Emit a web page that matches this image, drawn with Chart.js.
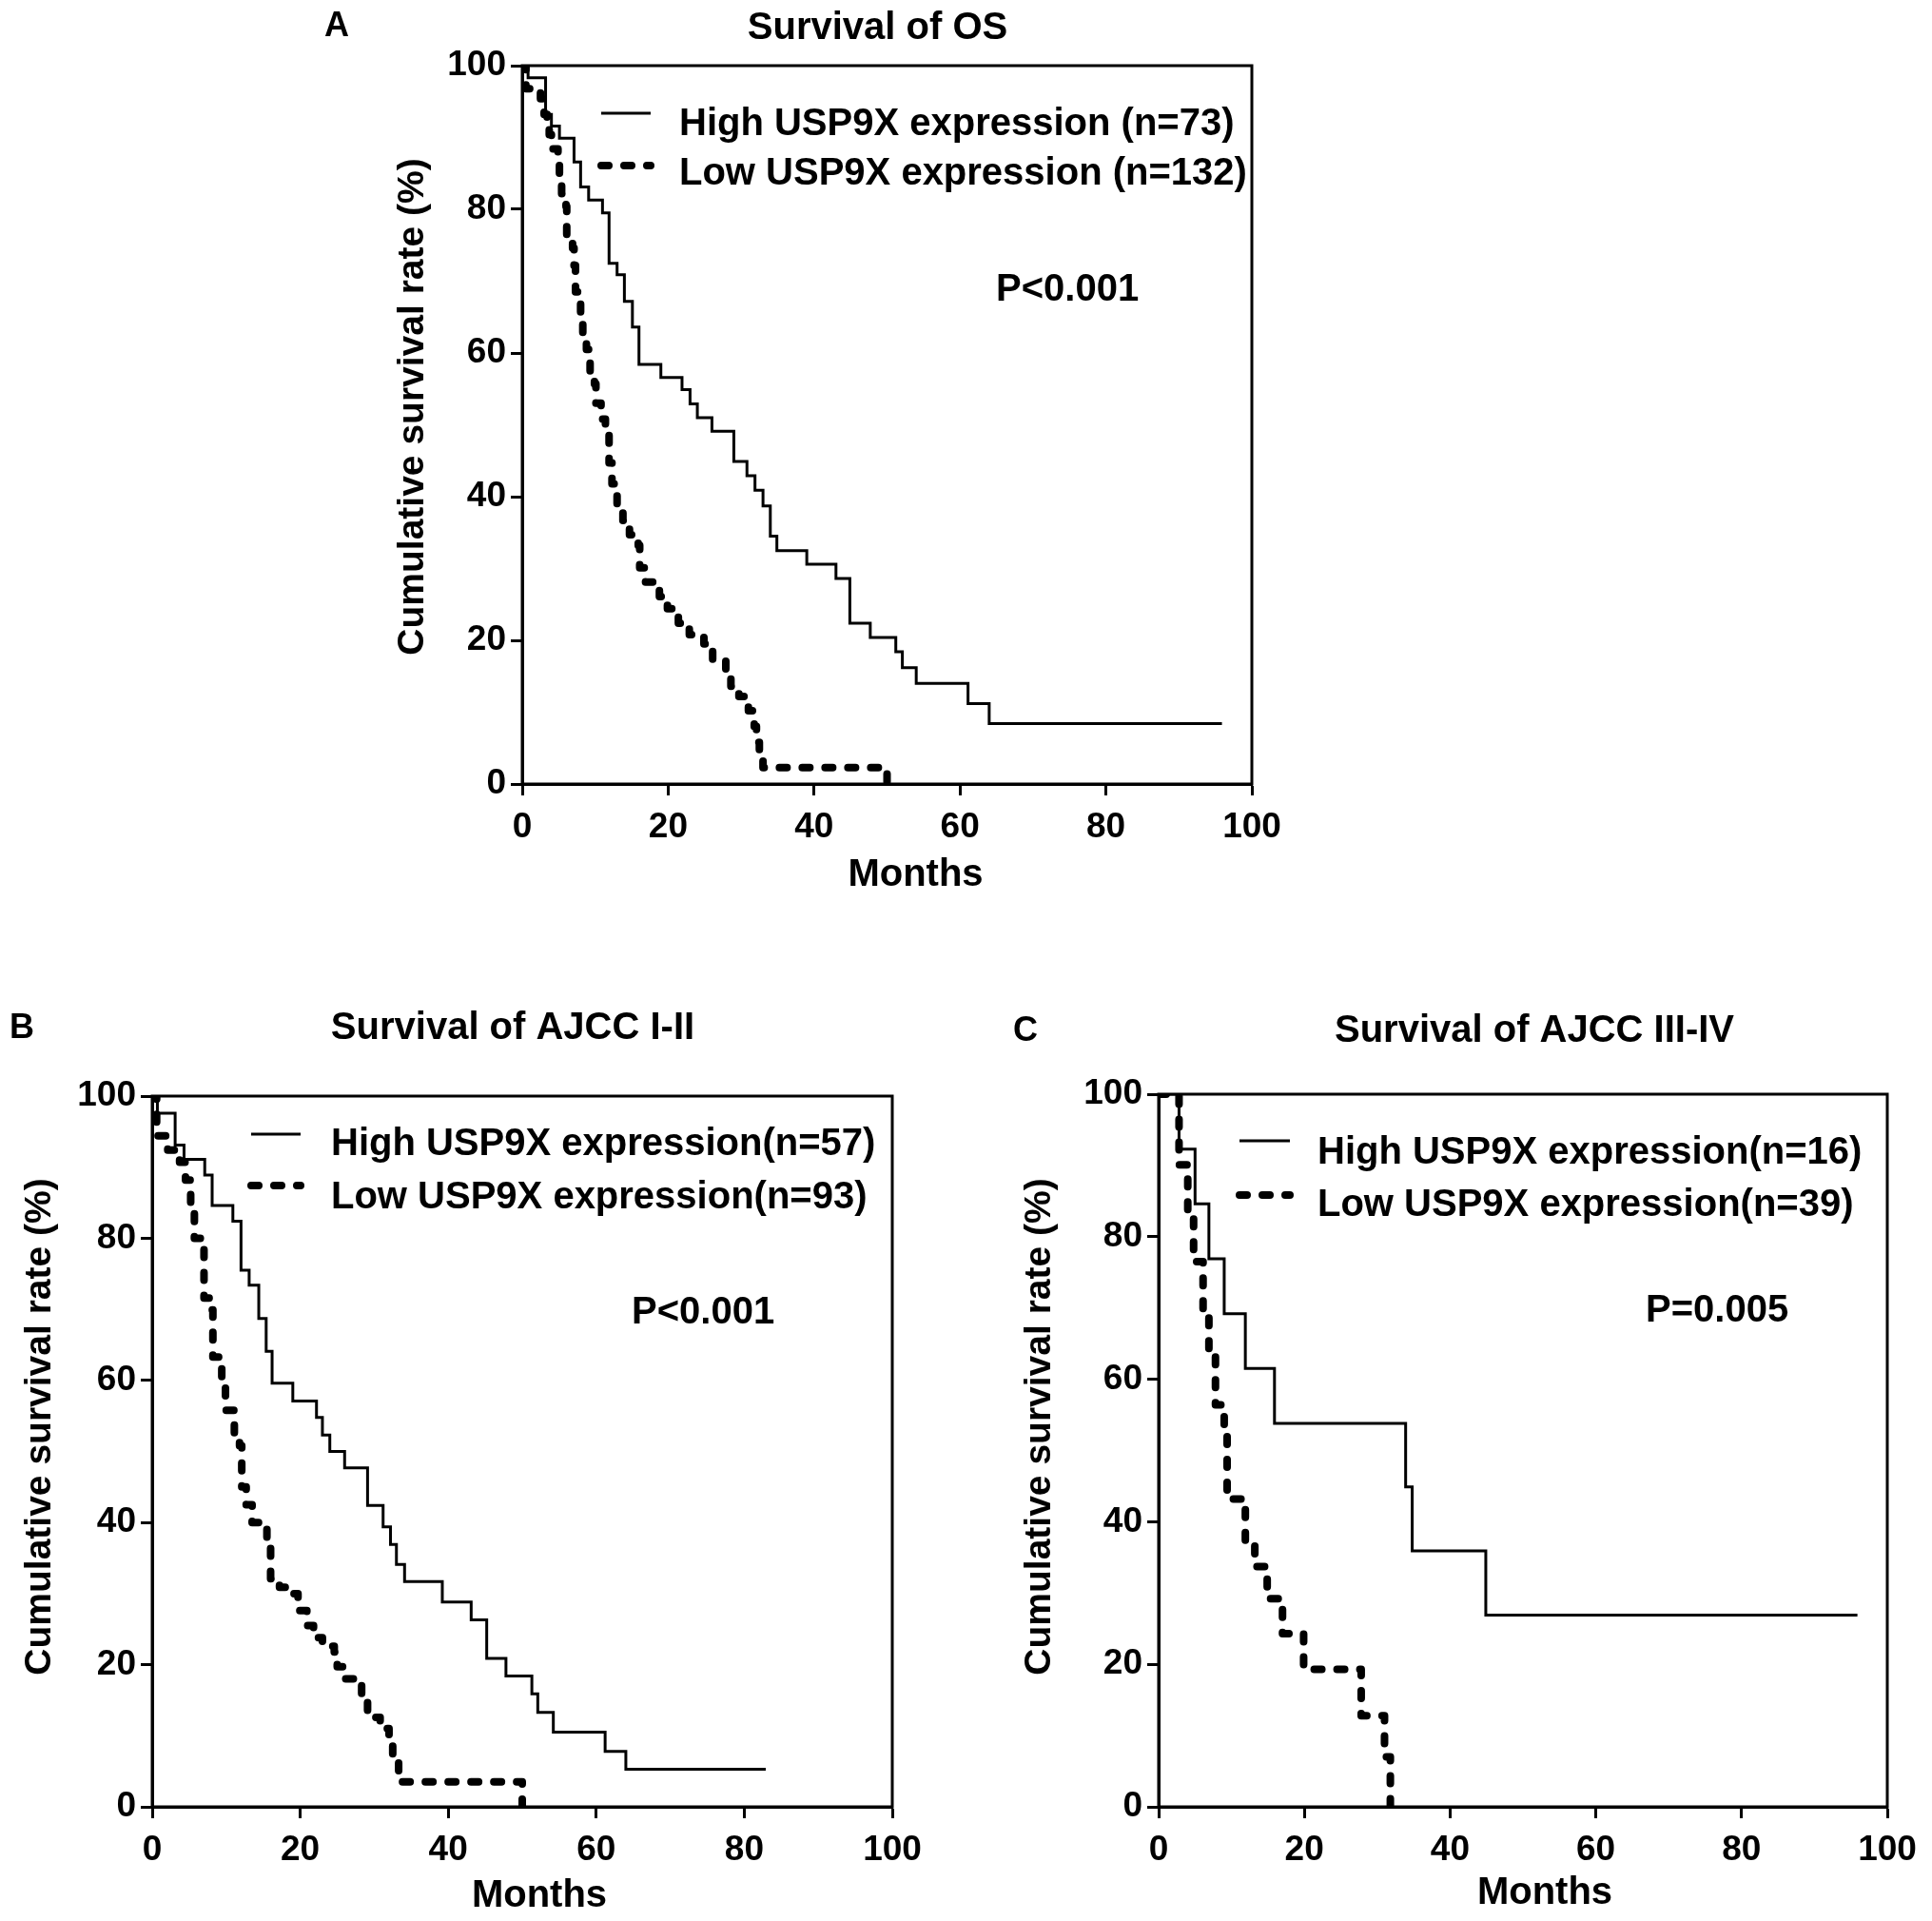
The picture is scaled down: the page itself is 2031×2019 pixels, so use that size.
<!DOCTYPE html>
<html>
<head>
<meta charset="utf-8">
<script src="https://cdn.jsdelivr.net/npm/chart.js@4.4.1/dist/chart.umd.min.js"></script>
<style>
  html, body { margin: 0; padding: 0; background: #fff; }
  body { width: 2031px; height: 2019px; position: relative; overflow: hidden; }
  canvas { position: absolute; }
</style>
</head>
<body>
<canvas id="chartA"></canvas>
<canvas id="chartB"></canvas>
<canvas id="chartC"></canvas>
<script>
// tick labels
const monthTicks = [0, 20, 40, 60, 80, 100];
const rateTicks = [0, 20, 40, 60, 80, 100];

// A: overall survival
const osHighMonths = [0, 0.8, 3.2, 4.0, 5.1, 7.1, 8.0, 9.1, 11.0, 11.9, 13.0, 14.0, 15.1, 16.0, 19.0, 21.9, 23.0, 24.0, 26.0, 29.0, 30.8, 31.9, 33.0, 34.0, 34.9, 39.0, 43.0, 44.9, 47.7, 51.2, 52.1, 54.0, 61.1, 64.0, 95.9];
const osHighSurv = [100, 98.3, 93.2, 91.6, 89.9, 86.6, 83.1, 81.3, 79.5, 72.5, 70.9, 67.2, 63.6, 58.4, 56.6, 54.9, 52.9, 51.0, 49.1, 44.9, 42.9, 40.9, 38.7, 34.5, 32.5, 30.6, 28.6, 22.4, 20.4, 18.4, 16.2, 14.0, 11.2, 8.4, 8.4];
const osLowMonths = [0, 0.5, 2.5, 3.0, 3.4, 3.7, 4.0, 4.9, 5.1, 5.4, 6.0, 6.1, 6.9, 7.1, 7.3, 7.6, 8.0, 8.3, 8.8, 9.3, 9.9, 10.1, 10.8, 11.4, 11.9, 12.3, 13.0, 13.8, 14.7, 15.9, 16.1, 16.9, 18.8, 19.9, 21.4, 22.9, 24.9, 26.1, 27.9, 28.6, 29.7, 31.0, 31.8, 32.1, 32.5, 33.0, 50.0];
const osLowSurv = [100, 96.8, 95.4, 93.2, 91.8, 90.4, 88.4, 86.4, 84.2, 82.2, 80.4, 76.5, 74.6, 72.2, 68.5, 67.2, 64.5, 62.3, 60.5, 57.5, 55.7, 53.0, 50.8, 48.6, 44.7, 41.8, 38.9, 36.7, 34.7, 33.2, 30.1, 28.1, 26.1, 24.4, 22.4, 20.8, 19.5, 17.3, 14.7, 13.6, 12.2, 10.2, 8.0, 5.8, 4.1, 2.3, 0];

// B: AJCC I-II
const earlyHighMonths = [0, 0.7, 3.1, 4.3, 7.1, 8.1, 10.9, 12.0, 13.1, 14.4, 15.4, 16.2, 19.0, 22.2, 23.0, 24.0, 26.0, 29.1, 31.2, 32.2, 33.0, 34.1, 39.2, 43.1, 45.2, 47.8, 51.3, 52.1, 54.2, 61.2, 64.0, 82.9];
const earlyHighSurv = [100, 97.6, 93.1, 91.1, 88.9, 84.6, 82.4, 75.5, 73.4, 68.7, 64.1, 59.6, 57.1, 54.8, 52.3, 50.0, 47.7, 42.4, 39.4, 36.9, 34.1, 31.7, 28.8, 26.3, 20.9, 18.4, 15.9, 13.3, 10.5, 7.8, 5.3, 5.3];
const earlyLowMonths = [0, 0.6, 2.1, 3.7, 4.5, 5.2, 5.7, 6.6, 7.0, 7.8, 8.2, 9.0, 9.4, 9.9, 11.1, 11.8, 12.1, 12.7, 13.5, 15.5, 16.0, 17.2, 18.9, 19.7, 20.9, 21.8, 23.0, 24.6, 25.0, 25.9, 27.5, 28.3, 29.1, 30.8, 32.0, 32.5, 33.3, 50.0];
const earlyLowSurv = [100, 94.4, 92.4, 90.7, 88.2, 84.0, 80.0, 78.7, 71.6, 69.9, 63.3, 62.5, 59.1, 55.8, 52.5, 50.8, 45.0, 42.5, 40.0, 36.7, 32.1, 30.9, 30.0, 27.6, 25.5, 23.8, 22.6, 21.8, 19.7, 18.0, 17.2, 14.7, 12.6, 11.0, 9.7, 6.8, 3.5, 0];

// C: AJCC III-IV
const lateHighMonths = [0, 2.8, 5.0, 6.9, 9.0, 11.9, 15.9, 33.9, 34.8, 44.9, 95.9];
const lateHighSurv = [100, 92.3, 84.6, 76.9, 69.2, 61.5, 53.8, 44.9, 35.9, 26.9, 26.9];
const lateLowMonths = [0, 2.8, 4.0, 4.8, 6.1, 6.9, 7.8, 9.0, 9.4, 11.9, 13.2, 14.9, 17.0, 19.9, 27.8, 31.0, 31.8];
const lateLowSurv = [100, 90.1, 83.1, 76.5, 69.5, 63.8, 56.4, 53.1, 43.2, 37.0, 33.7, 29.2, 24.3, 19.3, 12.8, 7.0, 0];

const FONT = '"Liberation Sans", Arial, sans-serif';

function kmPoints(months, surv) {
    return months.map((m, i) => ({ x: m, y: surv[i] }));
}

// frame, titles, legend and p value drawn on top of each panel
function makeDecor(d) {
    return {
        id: "decor",
        beforeDatasetsDraw(chart) {
            const a = chart.chartArea, ctx = chart.ctx;
            ctx.save();
            ctx.lineWidth = 3;
            ctx.strokeStyle = "#000";
            ctx.strokeRect(a.left, a.top, a.right - a.left, a.bottom - a.top);
            ctx.restore();
        },
        afterDraw(chart) {
            const a = chart.chartArea, ctx = chart.ctx;
            const cx = (a.left + a.right) / 2, cy = (a.top + a.bottom) / 2;
            ctx.save();
            ctx.fillStyle = "#000";
            ctx.strokeStyle = "#000";
            ctx.textBaseline = "middle";

            ctx.font = "bold 36px " + FONT;
            ctx.textAlign = "left";
            ctx.fillText(d.letter, a.left + d.letterX, a.top + d.letterY);

            ctx.font = "bold 40px " + FONT;
            ctx.textAlign = "center";
            ctx.fillText(d.title, cx + d.titleX, a.top + d.titleY);
            ctx.fillText("Months", cx + d.xTitleX, a.bottom + d.xTitleY);

            ctx.save();
            ctx.font = "bold 39px " + FONT;
            ctx.translate(a.left + d.yTitleX, cy + d.yTitleY);
            ctx.rotate(-Math.PI / 2);
            ctx.fillText("Cumulative survival rate (%)", 0, 0);
            ctx.restore();

            // legend
            ctx.lineWidth = 3;
            ctx.beginPath();
            ctx.moveTo(a.left + d.lineX0, a.top + d.row1);
            ctx.lineTo(a.left + d.lineX1, a.top + d.row1);
            ctx.stroke();
            ctx.save();
            ctx.lineWidth = 8;
            ctx.lineCap = "round";
            ctx.setLineDash([8, 16]);
            ctx.beginPath();
            ctx.moveTo(a.left + d.lineX0, a.top + d.row2);
            ctx.lineTo(a.left + d.lineX1, a.top + d.row2);
            ctx.stroke();
            ctx.restore();

            ctx.font = "bold 40px " + FONT;
            ctx.textAlign = "left";
            ctx.fillText(d.highLabel, a.left + d.textX, a.top + d.text1);
            ctx.fillText(d.lowLabel, a.left + d.textX, a.top + d.text2);

            ctx.fillText(d.pText, a.left + d.pX, a.top + d.pY);
            ctx.restore();
        }
    };
}

function axisOptions(tickValues, pad, fitFn) {
    return {
        type: "linear",
        min: 0,
        max: 100,
        afterBuildTicks: (s) => { s.ticks = tickValues.map(v => ({ value: v })); },
        afterFit: fitFn,
        ticks: {
            font: { family: FONT, size: 37, weight: "bold" },
            color: "#000",
            padding: pad,
            autoSkip: false,
            maxRotation: 0
        },
        grid: {
            drawOnChartArea: false,
            drawTicks: true,
            tickLength: 12,
            tickWidth: 3,
            tickColor: "#000"
        },
        border: { display: true, color: "#000", width: 3 }
    };
}

function drawPanel(id, box, area, high, low, decor) {
    const cv = document.getElementById(id);
    cv.width = box.w;
    cv.height = box.h;
    cv.style.left = box.x + "px";
    cv.style.top = box.y + "px";
    cv.style.width = box.w + "px";
    cv.style.height = box.h + "px";
    const yW = 80, xH = 60;

    new Chart(cv, {
        type: "line",
        data: {
            datasets: [
                {
                    label: decor.lowLabel,
                    data: kmPoints(low[0], low[1]),
                    stepped: true,
                    borderColor: "#000",
                    borderWidth: 8,
                    borderDash: [8, 16],
                    borderCapStyle: "round",
                    borderJoinStyle: "round",
                    pointRadius: 0,
                    fill: false
                },
                {
                    label: decor.highLabel,
                    data: kmPoints(high[0], high[1]),
                    stepped: true,
                    borderColor: "#000",
                    borderWidth: 3,
                    pointRadius: 0,
                    fill: false
                }
            ]
        },
        options: {
            responsive: false,
            devicePixelRatio: 1,
            animation: false,
            events: [],
            layout: {
                padding: {
                    left: area.l - box.x - yW,
                    top: area.t - box.y,
                    right: box.x + box.w - area.r,
                    bottom: box.y + box.h - area.b - xH
                }
            },
            plugins: {
                legend: { display: false },
                tooltip: { enabled: false }
            },
            scales: {
                x: axisOptions(monthTicks, 12, (s) => { s.height = xH; }),
                y: axisOptions(rateTicks, 5, (s) => { s.width = yW; })
            }
        },
        plugins: [makeDecor(decor)]
    });
}

drawPanel("chartA",
    { x: 300, y: 0, w: 1100, h: 960 },
    { l: 549, t: 69, r: 1316, b: 824 },
    [osHighMonths, osHighSurv], [osLowMonths, osLowSurv],
    {
        letter: "A", letterX: -208, letterY: -41,
        title: "Survival of OS", titleX: -10, titleY: -39,
        xTitleX: 30, xTitleY: 96, yTitleX: -115, yTitleY: -19,
        lineX0: 83, lineX1: 135, textX: 165, row1: 50, text1: 62, row2: 105, text2: 114,
        highLabel: "High USP9X expression (n=73)", lowLabel: "Low USP9X expression (n=132)",
        pText: "P<0.001", pX: 498, pY: 236
    });

drawPanel("chartB",
    { x: 0, y: 1040, w: 1010, h: 979 },
    { l: 160, t: 1152, r: 938, b: 1899 },
    [earlyHighMonths, earlyHighSurv], [earlyLowMonths, earlyLowSurv],
    {
        letter: "B", letterX: -150, letterY: -71,
        title: "Survival of AJCC I-II", titleX: -10, titleY: -71,
        xTitleX: 18, xTitleY: 94, yTitleX: -118, yTitleY: -26,
        lineX0: 104, lineX1: 156, textX: 188, row1: 40, text1: 51, row2: 94, text2: 107,
        highLabel: "High USP9X expression(n=57)", lowLabel: "Low USP9X expression(n=93)",
        pText: "P<0.001", pX: 504, pY: 228
    });

drawPanel("chartC",
    { x: 1030, y: 1040, w: 1001, h: 979 },
    { l: 1218, t: 1150, r: 1984, b: 1899 },
    [lateHighMonths, lateHighSurv], [lateLowMonths, lateLowSurv],
    {
        letter: "C", letterX: -153, letterY: -66,
        title: "Survival of AJCC III-IV", titleX: 12, titleY: -66,
        xTitleX: 23, xTitleY: 91, yTitleX: -125, yTitleY: -25,
        lineX0: 85, lineX1: 138, textX: 167, row1: 49, text1: 62, row2: 106, text2: 117,
        highLabel: "High USP9X expression(n=16)", lowLabel: "Low USP9X expression(n=39)",
        pText: "P=0.005", pX: 512, pY: 228
    });
</script>
</body>
</html>
